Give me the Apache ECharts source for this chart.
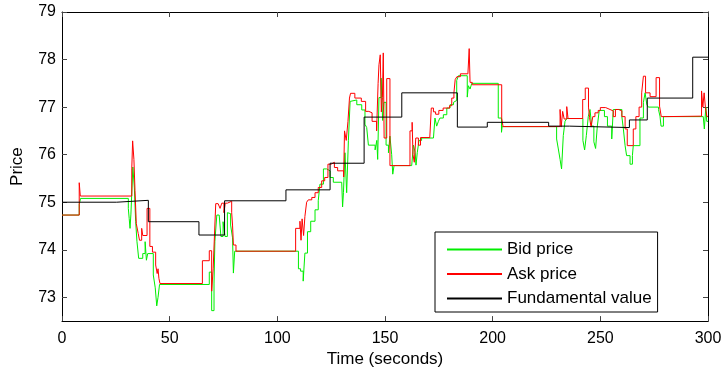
<!DOCTYPE html>
<html><head><meta charset="utf-8">
<script src="https://cdn.jsdelivr.net/npm/echarts@6/dist/echarts.min.js"></script>
<style>html,body{margin:0;padding:0;background:#fff}#c{width:726px;height:373px}</style>
</head><body><div id="c"></div>
<script>
// Time (seconds) and price values
const fundTime  = [0, 25.4, 40.1, 63.6, 75.5, 104, 124.5, 140.3, 157.8, 183.6, 197.5, 226, 235.6, 263.5, 271.8, 292.9, 300];
const fundPrice = [75.0, 75.04, 74.59, 74.31, 75.03, 75.26, 75.82, 76.79, 77.30, 76.58, 76.68, 76.60, 76.57, 76.73, 77.19, 78.05, 78.05];

const askTime  = [0, 8.0, 8.5, 32.4, 32.8, 33.4, 33.9, 34.5, 35.4, 36.0, 37.0, 37.5, 39.5, 40.8, 42.0, 43.5, 44.2, 44.6, 45.0, 45.5,
  65.2, 68.4, 69.5, 70.2, 70.8, 71.4, 72.5, 73.4, 74.2, 75.2, 75.8, 76.8, 78.8, 79.2, 79.6, 80.8,
  108.5, 110.5, 111.0, 111.5, 112.2, 112.8, 113.6, 114.4, 116.0, 117.5, 119.0, 120.6, 122.0, 123.5, 125.0, 126.5, 128.0, 130.8,
  131.2, 132.0, 132.8, 133.5, 134.0, 136.0, 139.0, 141.0, 142.5, 144.0, 146.1, 146.8, 147.2, 147.8, 148.3, 148.8, 149.2, 149.6, 150.8, 152.3,
  161.6, 162.6, 163.0, 163.6, 164.3, 165.5, 166.5, 170.8, 171.5, 172.5, 173.5, 175.0, 177.0, 180.0, 181.0, 182.0, 182.6, 183.4, 185.0,
  188.5, 189.1, 189.5, 190.5, 204.2, 204.8,
  231.3, 231.8, 232.5, 233.2, 234.4, 235.0, 241.8, 243.0, 244.5, 245.0, 245.7, 246.5, 247.5, 249.0, 250.0, 252.5, 254.5, 256.0, 257.0,
  258.5, 260.0, 261.5, 262.5, 265.3, 266.5, 268.0, 269.2, 270.0, 271.0, 273.1, 275.9, 277.5, 278.3, 280.0, 297.0, 297.6, 298.2, 298.8, 299.5, 300];
const askPrice = [74.73, 75.41, 75.13, 75.7, 76.29, 75.9, 75.25, 74.55, 74.34, 74.2, 74.45, 74.3, 74.87, 74.07, 73.95, 73.68, 73.5, 73.6, 73.4, 73.29,
  73.77, 73.98, 73.13, 73.6, 74.3, 74.97, 75.0, 74.87, 74.98, 74.78, 74.98, 75.02, 74.78, 74.52, 74.1, 73.97,
  74.45, 74.6, 74.2, 74.65, 74.3, 74.7, 75.0, 75.05, 75.1, 75.2, 75.31, 75.45, 75.52, 75.8, 75.84, 75.73, 75.66, 75.53,
  76.5, 76.3, 76.7, 77.19, 77.29, 77.19, 77.12, 76.91, 76.88, 76.7, 76.5, 77.5, 77.89, 78.1, 76.9, 77.2, 78.14, 76.35, 77.6, 75.77,
  76.5, 76.68, 76.0, 75.84, 76.35, 76.2, 76.36, 76.38, 76.98, 76.9, 76.85, 76.93, 76.98, 77.03, 77.19, 77.3, 77.58, 77.64, 77.7,
  77.7, 78.23, 77.52, 77.47, 76.77, 76.59,
  76.95, 76.58, 76.91, 76.75, 77.01, 76.76, 77.16, 77.4, 77.0, 76.78, 76.58, 76.8, 76.88, 76.93, 76.99, 76.95, 76.92, 76.8, 76.95,
  76.92, 76.8, 76.54, 76.19, 76.54, 76.8, 77.0, 77.3, 77.65, 77.3, 77.22, 77.62, 77.02, 76.8, 76.81, 77.34, 77.0, 77.3, 76.99, 76.8, 76.8];

const bidTime  = [0, 8.0, 8.6, 30.8, 31.2, 31.6, 32.0, 32.9, 33.6, 34.2, 34.8, 35.6, 36.2, 37.5, 38.6, 39.2, 39.8, 42.4, 43.3, 44.0, 44.6, 45.3,
  68.4, 69.5, 70.6, 71.0, 71.9, 73.0, 73.8, 74.8, 75.7, 76.8, 77.6, 78.3, 79.2, 79.6, 80.2,
  109.8, 110.8, 112.0, 112.8, 114.0, 115.5, 117.5, 119.0, 119.8, 121.4, 122.9, 124.5, 126.0, 129.9, 130.3, 130.7, 131.4, 132.2, 133.0, 133.8,
  134.5, 136.9, 139.2, 140.7, 141.5, 142.3, 145.4, 146.2, 146.6, 147.2, 148.2, 148.9, 149.5, 150.5, 151.6, 152.3, 153.1, 153.6, 154.2,
  162.4, 163.2, 164.0, 164.4, 165.0, 165.8, 167.0, 172.5, 173.2, 174.0, 174.8, 175.5, 177.1, 178.7, 180.2, 181.8, 182.5, 183.3, 184.1,
  187.2, 188.2, 188.7, 189.5, 190.3, 202.6, 204.1, 204.4,
  229.7, 230.5, 231.3, 232.0, 232.8, 233.6, 234.4, 241.9, 242.7, 243.5, 244.4, 245.2, 246.0, 247.0, 247.8, 248.6, 249.5, 251.9, 253.3,
  255.3, 256.0, 260.0, 260.7, 261.5, 262.2, 263.8, 264.9, 265.3, 268.4, 270.0, 270.8, 271.6, 272.3, 277.0, 277.7, 278.2, 279.3,
  297.8, 298.3, 299.0, 299.4, 300];
const bidPrice = [74.73, 74.95, 75.08, 74.87, 74.66, 74.45, 74.75, 75.74, 75.3, 74.6, 74.18, 73.82, 73.82, 73.92, 74.17, 73.78, 73.92, 73.47, 73.2, 72.82, 73.0, 73.27,
  73.53, 72.72, 73.3, 74.18, 74.73, 74.75, 74.28, 74.59, 74.28, 74.78, 74.76, 74.52, 74.25, 73.51, 73.97,
  73.6, 73.55, 73.34, 73.93, 74.38, 74.6, 74.84, 75.03, 75.38, 75.7, 75.66, 75.52, 75.42, 75.38, 74.9, 75.2, 76.04, 75.2, 76.3, 77.12,
  77.15, 77.05, 76.94, 76.64, 76.57, 76.2, 76.1, 76.3, 75.9, 77.2, 77.61, 76.72, 77.1, 76.2, 76.04, 76.39, 76.0, 75.59, 75.77,
  75.77, 76.2, 76.05, 75.78, 76.05, 76.3, 76.35, 76.38, 76.77, 76.6, 76.7, 76.77, 76.84, 76.98, 77.05, 77.1, 77.14, 77.56, 77.66,
  77.66, 77.21, 77.45, 77.38, 77.5, 76.77, 76.47, 76.59,
  76.33, 76.12, 75.9, 75.7, 76.4, 76.7, 76.76, 76.3, 76.1, 76.4, 76.8, 76.95, 76.6, 76.27, 76.13, 76.6, 76.93, 76.8, 76.6,
  76.33, 76.95, 76.8, 76.54, 76.19, 75.98, 75.8, 75.98, 76.19, 76.77, 77.1, 77.3, 77.05, 77.0, 76.95, 76.81, 76.6, 76.8,
  76.78, 76.54, 77.0, 76.7, 76.7];

const xTicks = [0, 50, 100, 150, 200, 250, 300];
const yTicks = [73, 74, 75, 76, 77, 78, 79];
const seriesNames = ['Bid price', 'Ask price', 'Fundamental value'];

const zip = (a, b) => a.map((t, i) => [t, b[i]]);
const FONT = 'Liberation Sans, Arial, Helvetica, sans-serif';

const chart = echarts.init(document.getElementById('c'), null, {renderer: 'canvas'});
const tickStyle = {show: true, inside: true, length: 5, lineStyle: {color: '#444', width: 1}};
chart.setOption({
  animation: false,
  backgroundColor: '#fff',
  grid: {left: 62, right: 18, top: 12, bottom: 50, containLabel: false},
  xAxis: [{
    type: 'value', min: 0, max: 300, position: 'bottom',
    name: 'Time (seconds)', nameLocation: 'middle', nameGap: 29,
    nameTextStyle: {fontFamily: FONT, fontSize: 17, color: '#000'},
    axisLine: {show: true, onZero: false, lineStyle: {color: '#000', width: 1}},
    axisTick: Object.assign({customValues: xTicks}, tickStyle),
    axisLabel: {customValues: xTicks, fontFamily: FONT, fontSize: 16, color: '#000', margin: 9},
    splitLine: {show: false}
  }, {
    type: 'value', min: 0, max: 300, position: 'top',
    axisLine: {show: true, onZero: false, lineStyle: {color: '#000', width: 1}},
    axisTick: Object.assign({customValues: xTicks}, tickStyle),
    axisLabel: {show: false}, splitLine: {show: false}
  }],
  yAxis: [{
    type: 'value', min: 72.5, max: 79, position: 'left',
    name: 'Price', nameLocation: 'middle', nameGap: 36, nameRotate: 90,
    nameTextStyle: {fontFamily: FONT, fontSize: 17, color: '#000'},
    axisLine: {show: true, onZero: false, lineStyle: {color: '#000', width: 1}},
    axisTick: Object.assign({customValues: yTicks}, tickStyle),
    axisLabel: {customValues: yTicks, fontFamily: FONT, fontSize: 16, color: '#000', margin: 6},
    splitLine: {show: false}
  }, {
    type: 'value', min: 72.5, max: 79, position: 'right',
    axisLine: {show: true, onZero: false, lineStyle: {color: '#000', width: 1}},
    axisTick: Object.assign({customValues: yTicks}, tickStyle),
    axisLabel: {show: false}, splitLine: {show: false}
  }],
  legend: {
    orient: 'vertical', left: 435, top: 232,
    padding: [9, 6, 5, 11], itemGap: 7.5, itemWidth: 55, itemHeight: 14,
    borderColor: '#000', borderWidth: 1, backgroundColor: '#fff',
    itemStyle: {opacity: 0, color: 'rgba(0,0,0,0)', borderWidth: 0},
    textStyle: {fontFamily: FONT, fontSize: 17, color: '#000'},
    data: seriesNames
  },
  series: [
    {name: seriesNames[0], type: 'line', step: 'end', symbol: 'none', data: zip(bidTime, bidPrice),
     color: '#00ee00', lineStyle: {color: '#00ee00', width: 1}, z: 2},
    {name: seriesNames[1], type: 'line', step: 'end', symbol: 'none', data: zip(askTime, askPrice),
     color: '#ff0000', lineStyle: {color: '#ff0000', width: 1}, z: 3},
    {name: seriesNames[2], type: 'line', step: 'end', symbol: 'none', data: zip(fundTime, fundPrice),
     color: '#000000', lineStyle: {color: '#000000', width: 1}, z: 4}
  ]
});
</script>
</body></html>
